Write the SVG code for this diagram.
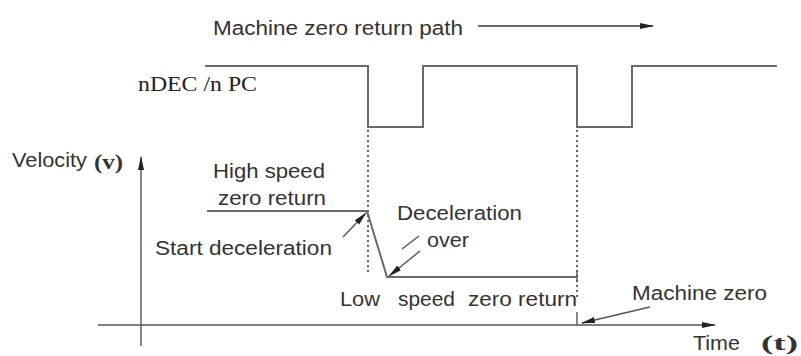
<svg xmlns="http://www.w3.org/2000/svg" width="801" height="356" viewBox="0 0 801 356">
<defs>
<style>
.t{font-family:"Liberation Sans",Arial,sans-serif;font-size:20px;fill:#333}
.s{font-family:"Liberation Serif","Times New Roman",serif;font-size:20px;fill:#222}
.m{font-family:"Liberation Serif","Times New Roman",serif;font-size:22px;font-weight:bold;fill:#333}
.ln{stroke:#6a6a6a;stroke-width:2;fill:none}
.thin{stroke:#555;stroke-width:1.4;fill:none}
.dot{stroke:#666;stroke-width:2;fill:none;stroke-dasharray:2 3}
</style>
<marker id="ah" markerWidth="14" markerHeight="8" refX="13" refY="4" orient="auto" markerUnits="userSpaceOnUse">
<path d="M0,1 L14,4 L0,7 z" fill="#222"/>
</marker>
</defs>
<rect width="801" height="356" fill="#fff"/>
<g id="title">
<text class="t" x="213" y="35" font-size="27" textLength="250" lengthAdjust="spacingAndGlyphs" fill="#444">Machine zero return path</text>
</g>
<g id="signal">
<text class="s" x="138" y="91" textLength="119" lengthAdjust="spacingAndGlyphs">nDEC /n PC</text>
<polyline class="ln" points="205,66 368,66 368,127 423,127 423,66 577,66 577,127 632,127 632,66 777,66"/>
</g>
<g id="axes">
<text class="t" x="12" y="167" textLength="75" lengthAdjust="spacingAndGlyphs">Velocity</text>
<text class="m" x="94" y="169" textLength="29" lengthAdjust="spacingAndGlyphs">(v)</text>
<text class="t" x="693" y="350" textLength="47" lengthAdjust="spacingAndGlyphs">Time</text>
<text class="m" x="761" y="350" textLength="37" lengthAdjust="spacingAndGlyphs">(t)</text>
</g>
<g id="labels">
<text class="t" x="213" y="178" textLength="112" lengthAdjust="spacingAndGlyphs">High speed</text>
<text class="t" x="218" y="205" textLength="108" lengthAdjust="spacingAndGlyphs">zero return</text>
<text class="t" x="155" y="255" textLength="177" lengthAdjust="spacingAndGlyphs">Start deceleration</text>
<text class="t" x="397" y="220" textLength="125" lengthAdjust="spacingAndGlyphs">Deceleration</text>
<text class="t" x="427" y="247" textLength="42" lengthAdjust="spacingAndGlyphs">over</text>
<text class="t" x="340" y="306" textLength="40" lengthAdjust="spacingAndGlyphs">Low</text>
<text class="t" x="398" y="306" textLength="57" lengthAdjust="spacingAndGlyphs">speed</text>
<text class="t" x="468" y="306" textLength="109" lengthAdjust="spacingAndGlyphs">zero return</text>
<text class="t" x="632" y="300" textLength="135" lengthAdjust="spacingAndGlyphs">Machine zero</text>
</g>
<g id="connectors">
<line class="ln" x1="478" y1="26" x2="653" y2="26" marker-end="url(#ah)"/>
<line class="thin" x1="141" y1="346" x2="141" y2="157" marker-end="url(#ah)"/>
<line class="thin" x1="98" y1="325" x2="715" y2="325" marker-end="url(#ah)"/>
<line class="dot" x1="368" y1="130" x2="368" y2="272"/>
<line class="dot" x1="577" y1="130" x2="577" y2="300"/>
<line class="thin" x1="577" y1="312" x2="577" y2="325"/>
<polyline class="ln" points="207,211 367,211 387,277 577,277"/>
<line class="thin" x1="577" y1="272" x2="577" y2="282"/>
<line class="thin" x1="343" y1="237" x2="366" y2="213" marker-end="url(#ah)"/>
<line class="thin" x1="402" y1="249" x2="419" y2="236"/>
<line class="thin" x1="420" y1="251" x2="389" y2="276" marker-end="url(#ah)"/>
<line class="thin" x1="650" y1="307" x2="582" y2="323" marker-end="url(#ah)"/>
</g>
</svg>
